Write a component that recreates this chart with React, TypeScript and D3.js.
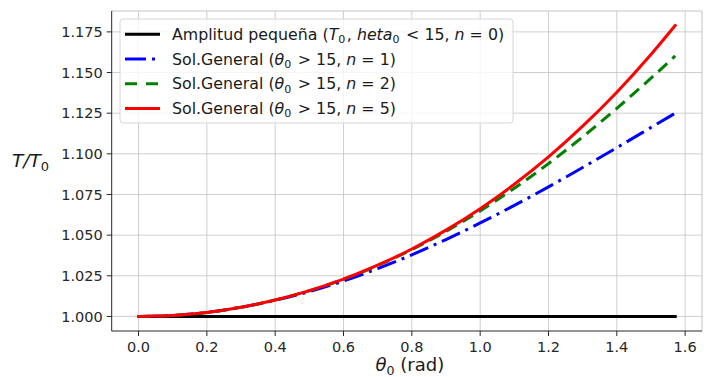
import * as d3 from 'd3';

// θ0 (rad) sample points and T/T0
const thetaValues = [0, 0.1, 0.2, 0.3, 0.4, 0.5, 0.6, 0.7, 0.8, 0.9, 1.0, 1.1, 1.2, 1.3, 1.4, 1.5, 1.5708];
const smallAmpValues = [1, 1, 1, 1, 1, 1, 1, 1, 1, 1, 1, 1, 1, 1, 1, 1, 1];
const n1Values = [1.0, 1.0006, 1.0025, 1.0056, 1.0099, 1.0153, 1.0218, 1.0294, 1.0379, 1.0473, 1.0575, 1.0683, 1.0797, 1.0916, 1.1038, 1.1162, 1.125];
const n2Values = [1.0, 1.0006, 1.0025, 1.0057, 1.0101, 1.0158, 1.0229, 1.0313, 1.0411, 1.0523, 1.0649, 1.0788, 1.094, 1.1104, 1.128, 1.1465, 1.1602];
const n5Values = [1.0, 1.0006, 1.0025, 1.0057, 1.0101, 1.0159, 1.023, 1.0315, 1.0415, 1.0531, 1.0663, 1.0813, 1.0981, 1.117, 1.1379, 1.1611, 1.1789];

const xTicks = [0, 0.2, 0.4, 0.6, 0.8, 1.0, 1.2, 1.4, 1.6];
const yTicks = [1.0, 1.025, 1.05, 1.075, 1.1, 1.125, 1.15, 1.175];

// op: relation symbol, gets mathtext-like spacing on both sides
type Seg = { t: string; it?: boolean; sub?: boolean; op?: boolean };

const series = [
  { values: smallAmpValues, color: '#000000', dash: 'none',
    label: [{ t: 'Amplitud pequeña (' }, { t: 'T', it: true }, { t: '0', sub: true }, { t: ', ' }, { t: 'heta', it: true }, { t: '0', sub: true }, { t: '<', op: true }, { t: '15, ' }, { t: 'n', it: true }, { t: '=', op: true }, { t: '0)' }] as Seg[] },
  { values: n1Values, color: '#0000ff', dash: '20,6,3,6',
    label: [{ t: 'Sol.General (' }, { t: 'θ', it: true }, { t: '0', sub: true }, { t: '>', op: true }, { t: '15, ' }, { t: 'n', it: true }, { t: '=', op: true }, { t: '1)' }] as Seg[] },
  { values: n2Values, color: '#008000', dash: '12,7',
    label: [{ t: 'Sol.General (' }, { t: 'θ', it: true }, { t: '0', sub: true }, { t: '>', op: true }, { t: '15, ' }, { t: 'n', it: true }, { t: '=', op: true }, { t: '2)' }] as Seg[] },
  { values: n5Values, color: '#ff0000', dash: 'none',
    label: [{ t: 'Sol.General (' }, { t: 'θ', it: true }, { t: '0', sub: true }, { t: '>', op: true }, { t: '15, ' }, { t: 'n', it: true }, { t: '=', op: true }, { t: '5)' }] as Seg[] },
];

const W = 712;
const H = 377;
const margin = { top: 11, right: 10, bottom: 46, left: 111.7 };
const FONT = '"DejaVu Sans", sans-serif';

const MathLabel = ({ segs, x, y, size }: { segs: Seg[]; x: number; y: number; size: number }) => {
  const subShift = size * 0.22;
  const opPad = size * 0.32;
  let inSub = false;
  let pendingPad = 0;
  return (
    <text x={x} y={y} fontFamily={FONT} fontSize={size} fill="#1a1a1a">
      {segs.map((s, i) => {
        let dy = 0;
        if (s.sub && !inSub) { dy = subShift; inSub = true; }
        else if (!s.sub && inSub) { dy = -subShift; inSub = false; }
        const dx = pendingPad + (s.op ? opPad : 0);
        pendingPad = s.op ? opPad : (s.sub ? 1.5 : 0);
        return (
          <tspan key={i} dx={dx} dy={dy} fontStyle={s.it ? 'italic' : 'normal'} fontSize={s.sub ? size * 0.7 : size}
            style={{ whiteSpace: 'pre' }}>
            {s.t}
          </tspan>
        );
      })}
    </text>
  );
};

export default function App() {
  const x0 = margin.left;
  const x1 = W - margin.right;
  const y0 = margin.top;
  const y1 = H - margin.bottom;

  const xMax = d3.max(thetaValues)!;
  const allY = [...smallAmpValues, ...n1Values, ...n2Values, ...n5Values];
  const yMin = d3.min(allY)!;
  const yMax = d3.max(allY)!;
  const xPad = xMax * 0.05;
  const yPad = (yMax - yMin) * 0.05;

  const xScale = d3.scaleLinear().domain([-xPad, xMax + xPad]).range([x0, x1]);
  const yScale = d3.scaleLinear().domain([yMin - yPad, yMax + yPad]).range([y1, y0]);

  const line = (vals: number[]) =>
    d3.line<number>()
      .x((_d, i) => xScale(thetaValues[i]))
      .y(d => yScale(d))
      .curve(d3.curveMonotoneX)(vals) || '';

  const legX = 120;
  const legY = 19;
  const rowH = 24.7;

  return (
    <svg width={W} height={H} style={{ position: 'absolute', left: 0, top: 0, background: '#fff' }}>
      <rect x={0} y={0} width={W} height={H} fill="#fff" />
      {/* grid */}
      <g stroke="#b0b0b0" strokeWidth={0.8} opacity={0.75}>
        {xTicks.map(t => (
          <line key={'gx' + t} x1={xScale(t)} x2={xScale(t)} y1={y0} y2={y1} />
        ))}
        {yTicks.map(t => (
          <line key={'gy' + t} x1={x0} x2={x1} y1={yScale(t)} y2={yScale(t)} />
        ))}
      </g>

      {/* series */}
      {series.map((s, i) => (
        <path key={i} d={line(s.values)} fill="none" stroke={s.color} strokeWidth={3}
          strokeDasharray={s.dash} strokeLinecap={s.dash === 'none' ? 'square' : 'butt'} />
      ))}

      {/* spines */}
      <line x1={x0} x2={x1} y1={y0} y2={y0} stroke="#c4c4c4" strokeWidth={1} />
      <line x1={x1} x2={x1} y1={y0} y2={y1} stroke="#c4c4c4" strokeWidth={1} />
      <line x1={x0} x2={x0} y1={y0} y2={y1} stroke="#262626" strokeWidth={1} />
      <line x1={x0} x2={x1} y1={y1} y2={y1} stroke="#262626" strokeWidth={1} />

      {/* x ticks */}
      {xTicks.map(t => (
        <g key={'xt' + t} transform={`translate(${xScale(t)},${y1})`}>
          <line y1={0} y2={5} stroke="#262626" />
          <text y={21} textAnchor="middle" fontFamily={FONT} fontSize={14.5} fill="#262626">{t.toFixed(1)}</text>
        </g>
      ))}
      {/* y ticks */}
      {yTicks.map(t => (
        <g key={'yt' + t} transform={`translate(${x0},${yScale(t)})`}>
          <line x1={0} x2={-5} stroke="#262626" />
          <text x={-9} dy="0.36em" textAnchor="end" fontFamily={FONT} fontSize={14.5} fill="#262626">{t.toFixed(3)}</text>
        </g>
      ))}

      {/* axis labels */}
      <text x={(x0 + x1) / 2 + 3} y={371} textAnchor="middle" fontFamily={FONT} fontSize={18} fill="#1a1a1a">
        <tspan fontStyle="italic">θ</tspan>
        <tspan fontSize={12.6} dy={4}>0</tspan>
        <tspan dy={-4} style={{ whiteSpace: 'pre' }}> (rad)</tspan>
      </text>
      <text x={12} y={167} fontFamily={FONT} fontSize={18.5} fill="#1a1a1a">
        <tspan fontStyle="italic">T/T</tspan>
        <tspan fontSize={13} dy={4}>0</tspan>
      </text>

      {/* legend */}
      <rect x={legX} y={legY} width={393} height={104} rx={3} fill="#fff" fillOpacity={0.8} stroke="#d6d6d6" strokeWidth={1} />
      {series.map((s, i) => {
        const cy = legY + 15.3 + i * rowH;
        return (
          <g key={'lg' + i}>
            <line x1={125} x2={160} y1={cy} y2={cy} stroke={s.color} strokeWidth={3}
              strokeDasharray={s.dash === 'none' ? undefined : (i === 1 ? '21,6,3,6' : '12,9')} />
            <MathLabel segs={s.label} x={172} y={cy + 5.5} size={15.8} />
          </g>
        );
      })}
    </svg>
  );
}
